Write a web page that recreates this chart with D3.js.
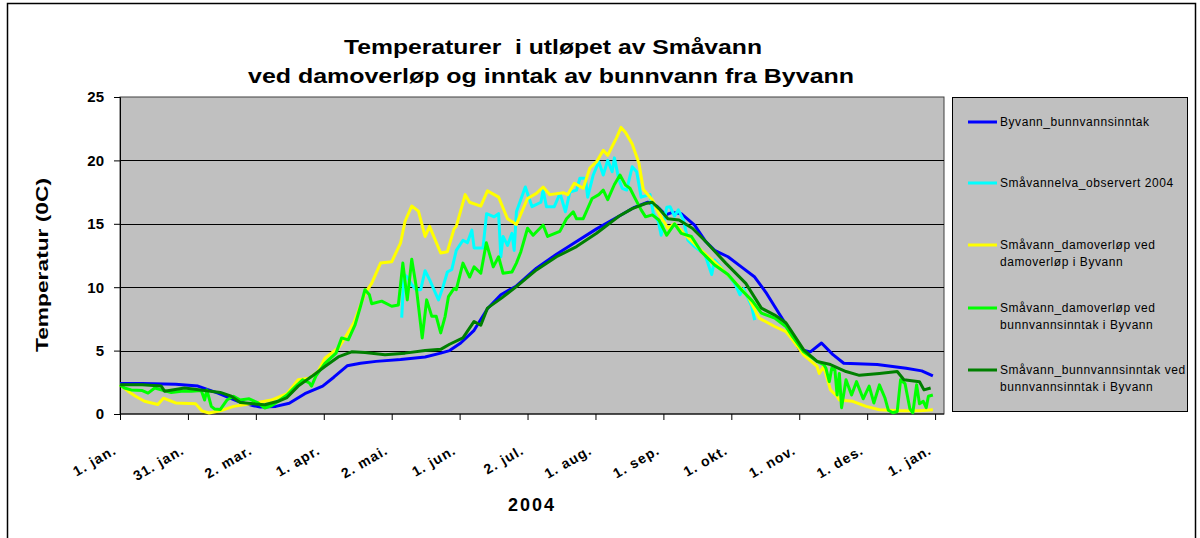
<!DOCTYPE html>
<html><head><meta charset="utf-8">
<script src="https://cdn.jsdelivr.net/npm/d3@7"></script>
<style>
body{margin:0;background:#fff}
text{font-family:"Liberation Sans",Arial,sans-serif;}
</style>
</head><body>
<svg id="c" width="1200" height="538"></svg>
<script>
// ---------- data ----------
const titleLines = ["Temperaturer  i utløpet av Småvann", "ved damoverløp og inntak av bunnvann fra Byvann"];
const yAxisTitle = "Temperatur (0C)";
const xAxisTitle = "2004";
const yTicks = [0, 5, 10, 15, 20, 25];
const xTickDays = [0, 30.5, 61, 91.5, 122, 152.5, 183, 213.5, 244, 274.5, 305, 335.5, 366];
const xTickLabels = ["1. jan.", "31. jan.", "2. mar.", "1. apr.", "2. mai.", "1. jun.", "2. jul.", "1. aug.", "1. sep.", "1. okt.", "1. nov.", "1. des.", "1. jan."];

const seriesNames = ["Byvann_bunnvannsinntak", "Småvannelva_observert 2004", "Småvann_damoverløp ved\ndamoverløp i Byvann", "Småvann_damoverløp ved\nbunnvannsinntak i Byvann", "Småvann_bunnvannsinntak ved\nbunnvannsinntak i Byvann"];
const seriesColors = ["#0000ff", "#00ffff", "#ffff00", "#00ff00", "#008000"];

// [day of year, temperature]
const byvannBunnvann = [[0,2.4],[10,2.4],[25,2.35],[35,2.2],[44,1.65],[53,1.0],[60,0.65],[63,0.55],[70,0.6],[76,0.85],[83,1.6],[91,2.2],[96,2.9],[102,3.8],[108,4.0],[115,4.15],[126,4.3],[137,4.5],[144,4.8],[148,5.0],[153,5.6],[159,6.6],[165,8.3],[171,9.4],[178,10.1],[187,11.5],[196,12.6],[205,13.6],[214,14.6],[224,15.6],[231,16.3],[237,16.7],[241,16.4],[245,15.7],[248,15.9],[252,15.8],[258,14.9],[263,13.6],[267,12.9],[273,12.4],[279,11.6],[285,10.8],[290,9.6],[296,7.9],[300,6.8],[305,5.1],[310,4.9],[315,5.6],[320,4.7],[325,4.0],[340,3.9],[353,3.6],[360,3.4],[365,3.0]];

const smaavannelvaObs = [[126.5,7.6],[127.5,11.0],[129,10.8],[131,10.2],[133,9.8],[135,9.8],[137,11.3],[139,10.6],[141,9.8],[143,9.0],[145,10.0],[147,11.2],[149,11.4],[151,12.9],[154,13.7],[156,13.5],[158,14.5],[159,13.1],[163,13.1],[164.6,15.8],[168,15.55],[170,15.8],[171,12.4],[172,14.0],[174,13.3],[176,14.25],[177,12.9],[178,15.95],[182,17.9],[185,16.35],[189,16.7],[190,17.66],[191.5,16.35],[195,16.35],[197.6,17.4],[200,15.95],[202,17.5],[205,17.66],[206.5,18.6],[209,18.6],[210,17.1],[212.5,18.85],[215,19.9],[217,18.85],[219,20.0],[221,19.1],[222,20.2],[224,18.5],[225.5,17.8],[227.5,17.66],[230,19.5],[232,19.1],[234,17.1],[238,17.3],[239.5,15.8],[241.7,15.2],[243,14.1],[245.5,16.3],[247,16.35],[249,15.6],[250.7,16.1],[253,15.3],[255,13.7],[258,13.2],[262.7,12.55],[265.7,11.0],[267,12.15],[271.7,11.2],[276,10.3],[278.4,9.4],[280,9.9],[283.6,8.5],[285,7.4]];

const damoverlopDam = [[0,2.3],[3.6,1.8],[7,1.4],[11,1.0],[17,0.75],[19.5,1.25],[25,0.87],[34,0.8],[36.7,0.25],[40,0.08],[45,0.25],[51,0.6],[62,0.9],[68,1.1],[75,1.6],[80,2.7],[85,2.83],[89,3.35],[92,4.4],[98,5.2],[101,6.0],[105,7.2],[110,9.5],[113,10.3],[117,11.9],[122,12.0],[126,13.5],[128,15.2],[131,16.4],[134,16.0],[137,14.0],[139,14.8],[144,12.7],[147,12.8],[150,14.6],[151,14.8],[155,17.3],[157,16.7],[162,16.4],[165,17.6],[168,17.3],[170,17.1],[174,15.4],[178,14.95],[183,17.0],[187,17.4],[190,17.9],[193,17.3],[199,17.45],[201,17.3],[204,18.2],[208,17.8],[211,19.4],[214,19.9],[217,20.8],[219,20.4],[221,21.1],[223,21.8],[225,22.6],[227,22.2],[230,21.3],[233,19.8],[235,17.7],[239,16.9],[242,15.8],[246,14.65],[249,15.0],[254,14.1],[261,12.9],[270,11.5],[278,10.05],[282,9.26],[287,7.56],[294,6.9],[299,6.5],[302,5.85],[307,4.67],[313,3.75],[314,3.2],[316,3.75],[319,1.9],[322,1.4],[323,1.1],[329,1.0],[335,0.6],[341,0.34],[350,0.26],[359,0.26],[365,0.34]];

const damoverlopBunn = [[0,2.3],[2,2.05],[5,1.9],[10,1.85],[12.6,1.65],[15.6,2.05],[18.5,1.9],[23,1.7],[27.5,1.8],[32,1.8],[36.5,1.85],[38,1.1],[39,1.9],[41,0.6],[42.4,0.4],[45,0.35],[48,1.1],[51,1.4],[54,1.1],[58,1.2],[62,0.87],[65,0.47],[68,0.65],[71,1.0],[75,1.5],[79,2.2],[82,2.7],[85,2.45],[86,2.2],[88,3.0],[92,4.0],[97,4.8],[99.5,6.0],[102.5,5.85],[105.5,7.0],[108,8.5],[110,9.8],[112,9.4],[113,8.7],[117.5,8.9],[122,8.5],[125,8.6],[127,11.9],[129,9.0],[131,12.2],[133,10.05],[135.7,6.0],[137.7,9.0],[140,7.7],[142,7.7],[144,6.4],[146,7.7],[147.5,9.26],[150,9.9],[151,9.8],[154,11.9],[157,10.8],[159,11.6],[162,11.1],[164.5,13.5],[167.6,11.6],[170,12.4],[172,11.1],[176,11.2],[178,11.9],[180,12.8],[183,14.65],[185.5,14.1],[190,14.9],[192,14.0],[197.5,14.4],[200.5,15.4],[203.5,15.95],[205,15.4],[208,15.4],[212,17.0],[215,17.3],[217,17.66],[219,16.9],[222,18.1],[224.5,18.85],[227,18.05],[229,17.8],[231,17.1],[234,16.1],[236,15.55],[239,15.7],[242,15.3],[245.5,14.1],[249,15.0],[252,14.25],[256.6,14.0],[261,12.8],[267,11.75],[273,11.0],[279,9.8],[284,8.9],[288,7.95],[294,7.56],[299,6.9],[302,6.1],[307,4.9],[313,4.15],[316,3.9],[317,3.6],[318.5,2.55],[319.6,3.6],[321,3.5],[322,1.5],[323,3.2],[324,0.5],[326,2.7],[328.5,1.5],[330.7,2.55],[333.7,1.2],[336.4,2.2],[338.5,0.87],[341,2.3],[343.5,1.26],[345,0.3],[347,0.1],[349,0.2],[350.5,2.7],[352.5,2.4],[354.7,0.4],[356,0.1],[357.7,2.3],[359,0.8],[360.7,1.0],[362,0.5],[363,1.4],[365,1.5]];

const bunnvannBunn = [[0,2.3],[10,2.3],[18.5,2.2],[20,1.8],[29,2.05],[38,1.85],[45,1.7],[50,1.4],[54,0.9],[60,0.8],[65,0.73],[71,1.0],[75,1.3],[80,2.2],[86,2.95],[92,3.75],[98,4.5],[104,4.9],[110,4.85],[119,4.67],[128,4.8],[137,5.0],[144,5.1],[148,5.5],[154,6.0],[159,7.3],[162,7.0],[165,8.35],[171,9.1],[178,10.05],[187,11.36],[196,12.4],[205,13.2],[214,14.25],[224,15.6],[230,16.2],[236,16.6],[239,16.7],[242,16.2],[246,15.4],[251,15.3],[257,14.65],[263,13.6],[272,11.9],[281,10.3],[288,8.35],[294,7.8],[299,7.2],[302,6.4],[307,5.06],[313,4.15],[319,3.9],[326,3.35],[332,3.05],[341,3.2],[349,3.35],[352,2.7],[359,2.55],[361,1.9],[364,2.05]];

const seriesData = [byvannBunnvann, smaavannelvaObs, damoverlopDam, damoverlopBunn, bunnvannBunn];

// ---------- drawing ----------
const svg = d3.select("#c");
const plot = {left: 120, right: 944, top: 97, bottom: 414};
const x = d3.scaleLinear().domain([0, 370]).range([plot.left, plot.right]);
const y = d3.scaleLinear().domain([0, 25]).range([plot.bottom, plot.top]);

svg.append("rect").attr("width", 1200).attr("height", 538).attr("fill", "#fff");
// chart frame
svg.append("rect").attr("x", 7.5).attr("y", 3.5).attr("width", 1188).attr("height", 600)
  .attr("fill", "none").attr("stroke", "#000").attr("stroke-width", 1.5);

// title
svg.append("text").attr("x", 553).attr("y", 54).attr("text-anchor", "middle")
  .attr("font-size", 21).attr("font-weight", "bold").style("white-space", "pre")
  .attr("textLength", 418).attr("lengthAdjust", "spacingAndGlyphs").text(titleLines[0]);
svg.append("text").attr("x", 551).attr("y", 83).attr("text-anchor", "middle")
  .attr("font-size", 21).attr("font-weight", "bold")
  .attr("textLength", 606).attr("lengthAdjust", "spacingAndGlyphs").text(titleLines[1]);

// plot background
svg.append("rect").attr("x", plot.left).attr("y", plot.top)
  .attr("width", plot.right - plot.left).attr("height", plot.bottom - plot.top)
  .attr("fill", "#c0c0c0").attr("stroke", "#404040").attr("stroke-width", 1);

// gridlines
svg.append("g").selectAll("line").data(yTicks.filter(d => d > 0 && d < 25)).join("line")
  .attr("x1", plot.left).attr("x2", plot.right)
  .attr("y1", d => Math.round(y(d)) + 0.5).attr("y2", d => Math.round(y(d)) + 0.5)
  .attr("stroke", "#000").attr("stroke-width", 1);

// axes
const yAxis = svg.append("g").attr("transform", `translate(${plot.left},0)`)
  .call(d3.axisLeft(y).tickValues(yTicks).tickSize(6).tickPadding(10));
yAxis.selectAll("text").attr("font-size", 15).attr("font-weight", "bold")
  .attr("font-family", "Liberation Sans, Arial, sans-serif").attr("fill", "#000");
yAxis.selectAll("path,line").attr("stroke", "#000");

const xAxis = svg.append("g").attr("transform", `translate(0,${plot.bottom})`)
  .call(d3.axisBottom(x).tickValues(xTickDays).tickFormat((d, i) => xTickLabels[i]).tickSize(6));
xAxis.select(".domain").attr("d", `M${plot.left},0H${plot.right}`);
xAxis.selectAll("path,line").attr("stroke", "#000");
xAxis.selectAll("text")
  .attr("font-size", 14).attr("font-weight", "bold").attr("letter-spacing", 1.1)
  .attr("font-family", "Liberation Sans, Arial, sans-serif").attr("fill", "#000")
  .attr("text-anchor", "end").attr("dy", null).attr("y", null)
  .attr("transform", "translate(-3,39) rotate(-30)");

// axis titles
svg.append("text").attr("transform", "translate(48,265) rotate(-90)")
  .attr("text-anchor", "middle").attr("font-size", 17).attr("font-weight", "bold")
  .attr("textLength", 174).attr("lengthAdjust", "spacingAndGlyphs").text(yAxisTitle);
svg.append("text").attr("x", 532).attr("y", 511).attr("text-anchor", "middle")
  .attr("font-size", 18).attr("font-weight", "bold").attr("letter-spacing", 2).text(xAxisTitle);

// series
const line = d3.line().x(d => x(d[0])).y(d => y(d[1]));
svg.append("g").selectAll("path").data(seriesData).join("path")
  .attr("d", line).attr("fill", "none")
  .attr("stroke", (d, i) => seriesColors[i]).attr("stroke-width", 3)
  .attr("stroke-linejoin", "round");

// legend
svg.append("rect").attr("x", 952.5).attr("y", 97.5).attr("width", 235).attr("height", 314)
  .attr("fill", "#c0c0c0").attr("stroke", "#000").attr("stroke-width", 1);
const legendY = [122, 183, 245, 308, 370];
const lg = svg.append("g").selectAll("g").data(seriesNames).join("g")
  .attr("transform", (d, i) => `translate(0,${legendY[i]})`);
lg.append("line").attr("x1", 968).attr("x2", 997).attr("y1", 0).attr("y2", 0)
  .attr("stroke", (d, i) => seriesColors[i]).attr("stroke-width", 3);
lg.each(function(d) {
  const t = d3.select(this).append("text").attr("x", 1000).attr("y", 4)
    .attr("font-size", 12).attr("letter-spacing", 0.55).attr("fill", "#000");
  d.split("\n").forEach((s, k) => {
    t.append("tspan").attr("x", 1000).attr("dy", k === 0 ? 0 : 16.5).text(s);
  });
});
</script>
</body></html>
